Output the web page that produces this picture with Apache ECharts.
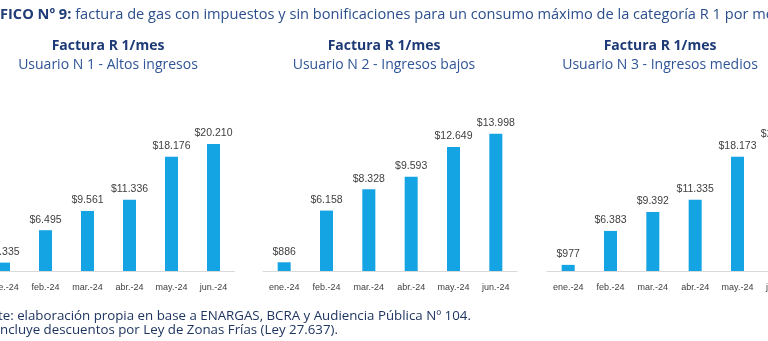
<!DOCTYPE html>
<html><head><meta charset="utf-8">
<script src="https://cdn.jsdelivr.net/npm/echarts@6/dist/echarts.min.js"></script>
<style>html,body{margin:0;padding:0;background:#fff;overflow:hidden;width:768px;height:341px;position:relative}#c{position:absolute;left:-60px;top:0;width:900px;height:341px}</style>
</head><body><div id="c"></div>
<script>
const categories = ['ene.-24','feb.-24','mar.-24','abr.-24','may.-24','jun.-24'];
const seriesAltos = [1335, 6495, 9561, 11336, 18176, 20210];
const seriesBajos = [886, 6158, 8328, 9593, 12649, 13998];
const seriesMedios = [977, 6383, 9392, 11335, 18173, 20205];
const chartTitles = ['Factura R 1/mes', 'Factura R 1/mes', 'Factura R 1/mes'];
const chartSubtitles = ['Usuario N 1 - Altos ingresos', 'Usuario N 2 - Ingresos bajos', 'Usuario N 3 - Ingresos medios'];
const yMax = [25000, 16000, 25000];
const mainTitleBold = 'GRÁFICO Nº 9:';
const mainTitleRest = ' factura de gas con impuestos y sin bonificaciones para un consumo máximo de la categoría R 1 por mes';
const footLines = ['Fuente: elaboración propia en base a ENARGAS, BCRA y Audiencia Pública Nº 104.', '(1) Incluye descuentos por Ley de Zonas Frías (Ley 27.637).'];
const hiddenPrefixes = ['GRÁ', 'Fuen', '(1) I'];

const OFF = 60; // container is shifted left by this amount
const FONT = '"Open Sans", "Noto Sans", sans-serif';
const cvs = document.createElement('canvas').getContext('2d');
function w(text, font) { cvs.font = font; return cvs.measureText(text).width; }

const allSeries = [seriesAltos, seriesBajos, seriesMedios];
const grids = [
  { left: -17.5 + OFF, width: 252, top: 114, height: 157 },
  { left: 263 + OFF, width: 254, top: 114, height: 157 },
  { left: 547 + OFF, width: 254, top: 114, height: 157 }
];
const titleCenters = [108, 384, 660];
const BAR = '#14a3e3';

const fmt = v => '$' + String(v).replace(/\B(?=(\d{3})+(?!\d))/g, '.');

const titleBoldFont = 'bold 14.6px ' + FONT;
const titleFont = '14.6px ' + FONT;
const footFont = '13.3px ' + FONT;

const graphic = [];
graphic.push({
  type: 'text', x: OFF - w(hiddenPrefixes[0], titleBoldFont), y: 15,
  style: {
    text: '{b|' + mainTitleBold + '}{r|' + mainTitleRest + '}',
    verticalAlign: 'middle',
    rich: {
      b: { font: titleBoldFont, fill: '#1f3c78' },
      r: { font: titleFont, fill: '#2c4f8c' }
    }
  }
});
chartTitles.forEach((t, i) => {
  graphic.push({ type: 'text', x: OFF + titleCenters[i], y: 46,
    style: { text: t, font: 'bold 14px ' + FONT, fill: '#1d3a76', align: 'center', verticalAlign: 'middle' } });
  graphic.push({ type: 'text', x: OFF + titleCenters[i], y: 65,
    style: { text: chartSubtitles[i], font: '14px ' + FONT, fill: '#2f5597', align: 'center', verticalAlign: 'middle' } });
});
footLines.forEach((t, i) => {
  graphic.push({ type: 'text', x: OFF - w(hiddenPrefixes[i + 1], footFont) - (i === 0 ? 2 : 0), y: i === 0 ? 316 : 330,
    style: { text: t, font: footFont, fill: '#1f3560', verticalAlign: 'middle' } });
});

const option = {
  animation: false,
  grid: grids.map(g => Object.assign({ containLabel: false }, g)),
  xAxis: grids.map((g, i) => ({
    type: 'category', gridIndex: i, data: categories,
    axisLine: { lineStyle: { color: '#d9d9d9', width: 1 } },
    axisTick: { show: false },
    axisLabel: { color: '#404040', fontFamily: 'Liberation Sans', fontSize: 9, margin: 12, interval: 0 }
  })),
  yAxis: grids.map((g, i) => ({
    type: 'value', gridIndex: i, min: 0, max: yMax[i], show: false,
    splitLine: { show: false }
  })),
  series: allSeries.map((d, i) => ({
    type: 'bar', xAxisIndex: i, yAxisIndex: i, data: d, barWidth: 13,
    itemStyle: { color: BAR },
    label: { show: true, position: 'top', distance: 5, formatter: p => fmt(p.value),
      color: '#404040', fontFamily: 'Liberation Sans', fontSize: 10.5 }
  })),
  graphic: graphic
};
const chart = echarts.init(document.getElementById('c'), null, { renderer: 'canvas' });
chart.setOption(option);
</script></body></html>
